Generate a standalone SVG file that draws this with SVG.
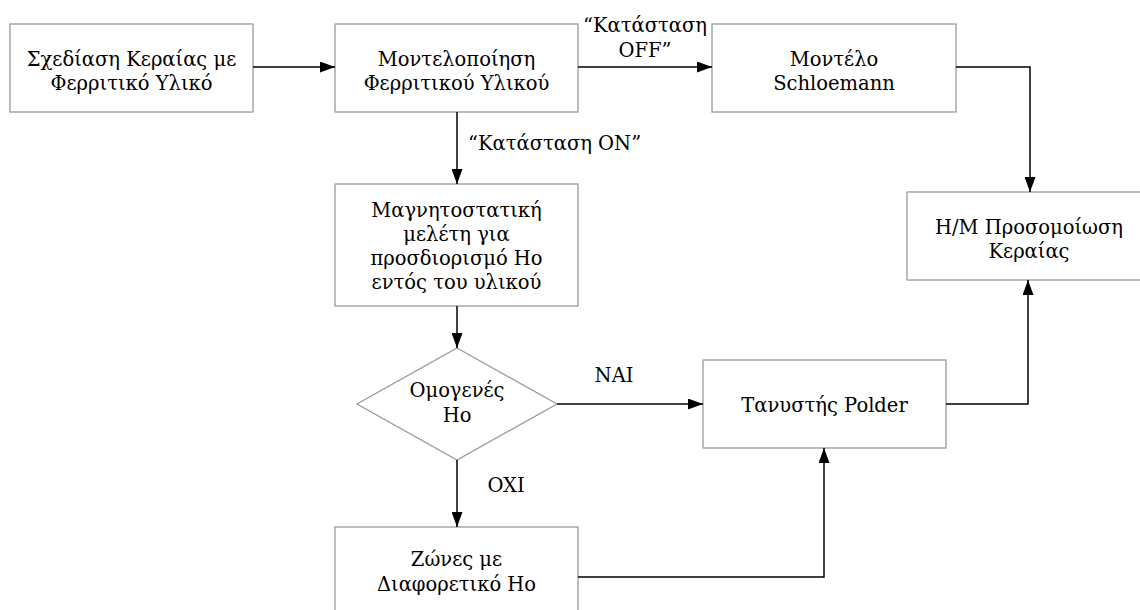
<svg xmlns="http://www.w3.org/2000/svg" width="1140" height="610" viewBox="0 0 1140 610">
  <defs>
    <style>
      .box { fill: #ffffff; stroke: #9a9a9a; stroke-width: 1.3; }
      text { font-family: 'DejaVu Serif', 'Liberation Serif', serif; font-size: 19.5px; fill: #000; }
      .t { text-anchor: middle; }
      .conn { fill: none; stroke: #000; stroke-width: 1.5; }
    </style>
    <marker id="arr" markerUnits="userSpaceOnUse" markerWidth="16" markerHeight="11" refX="15" refY="5.5" orient="auto">
      <path d="M0,0 L15,5.5 L0,11 z" fill="#000"/>
    </marker>
  </defs>
  <rect width="1140" height="610" fill="#ffffff"/>

  <g id="n1">
    <rect class="box" x="10" y="24" width="243" height="88"/>
    <text class="t" x="131.5" y="66">Σχεδίαση Κεραίας με</text>
    <text class="t" x="131.5" y="90">Φερριτικό Υλικό</text>
  </g>
  <g id="n2">
    <rect class="box" x="335" y="24" width="243" height="88"/>
    <text class="t" x="456.5" y="66">Μοντελοποίηση</text>
    <text class="t" x="456.5" y="90">Φερριτικού Υλικού</text>
  </g>
  <g id="n3">
    <rect class="box" x="712" y="24" width="244" height="88"/>
    <text class="t" x="834" y="66">Μοντέλο</text>
    <text class="t" x="834" y="90">Schloemann</text>
  </g>
  <g id="n4">
    <rect class="box" x="907" y="192" width="244" height="88"/>
    <text class="t" x="1029" y="234">Η/Μ Προσομοίωση</text>
    <text class="t" x="1029" y="258">Κεραίας</text>
  </g>
  <g id="n5">
    <rect class="box" x="335" y="184" width="243" height="122"/>
    <text class="t" x="456.5" y="217">Μαγνητοστατική</text>
    <text class="t" x="456.5" y="241">μελέτη για</text>
    <text class="t" x="456.5" y="265">προσδιορισμό Ho</text>
    <text class="t" x="456.5" y="289">εντός του υλικού</text>
  </g>
  <g id="n6">
    <polygon class="box" points="457,348 557,404 457,460 357,404"/>
    <text class="t" x="457" y="397">Ομογενές</text>
    <text class="t" x="457" y="422">Ho</text>
  </g>
  <g id="n7">
    <rect class="box" x="703" y="360" width="243" height="88"/>
    <text class="t" x="824.5" y="412">Τανυστής Polder</text>
  </g>
  <g id="n8">
    <rect class="box" x="335" y="527" width="243" height="88"/>
    <text class="t" x="456.5" y="566">Ζώνες με</text>
    <text class="t" x="456.5" y="591">Διαφορετικό Ho</text>
  </g>

  <g id="connectors">
    <path class="conn" d="M253,67 L335,67" marker-end="url(#arr)"/>
    <path class="conn" d="M578,67 L712,67" marker-end="url(#arr)"/>
    <path class="conn" d="M956,67 L1030,67 L1030,192" marker-end="url(#arr)"/>
    <path class="conn" d="M457,112 L457,184" marker-end="url(#arr)"/>
    <path class="conn" d="M457,306 L457,348" marker-end="url(#arr)"/>
    <path class="conn" d="M557,404 L703,404" marker-end="url(#arr)"/>
    <path class="conn" d="M457,460 L457,527" marker-end="url(#arr)"/>
    <path class="conn" d="M578,577 L824,577 L824,448" marker-end="url(#arr)"/>
    <path class="conn" d="M946,404 L1028,404 L1028,280" marker-end="url(#arr)"/>
    <text class="t" x="645" y="32">“Κατάσταση</text>
    <text class="t" x="645" y="57">OFF”</text>
    <text x="468" y="150">“Κατάσταση ON”</text>
    <text class="t" x="614" y="382">NAI</text>
    <text class="t" x="506" y="492">OXI</text>
  </g>
</svg>
